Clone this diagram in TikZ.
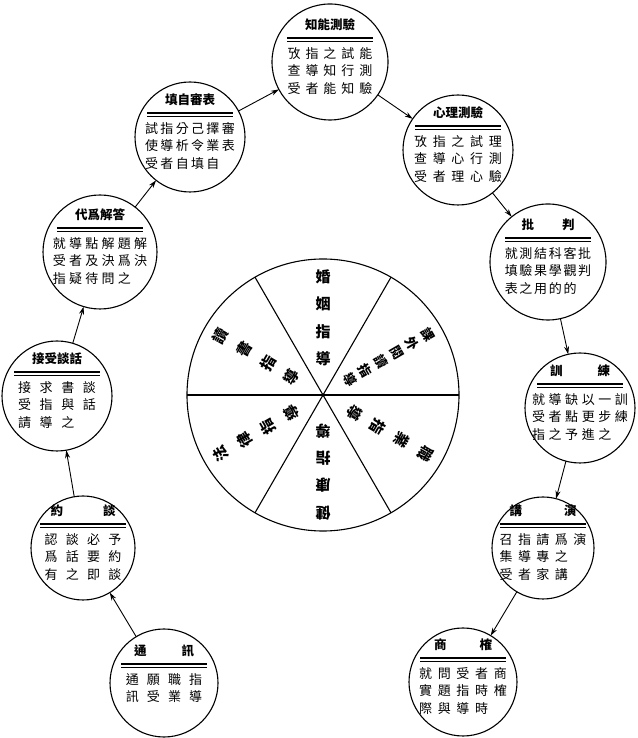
\documentclass[tikz,border=0pt]{standalone}
\usepackage{fontspec}
\newfontfamily\cjk{Noto Sans CJK TC}
\usetikzlibrary{arrows.meta}

% one stage of the cycle: circle, heading, double rule, body rows
\newcommand{\guidestage}[7][0]{%
  \node[ring, minimum size=2*#4] (#2) at (#3) {};
  \begin{scope}[shift={(#2.center)}, yshift=#1]
    \node[heading] (#2-t) at (0,37) {#5};
    \draw[line width=1.3pt] (-43,24) -- (43,24);
    \draw[line width=0.7pt] (-43,21) -- (43,21);
    \node[rows=#6, anchor=north] (#2-b) at (0,15) {#7};
  \end{scope}}

\begin{document}
\begin{tikzpicture}[x=1pt, y=1pt,
    ring/.style={draw, circle, line width=1.1pt, inner sep=0pt, outer sep=0pt},
    heading/.style={font=\cjk\bfseries\fontsize{12.5}{14}\selectfont, inner sep=0pt},
    rows/.style={font=\cjk\fontsize{13}{17.5}\selectfont\addfontfeature{LetterSpace=#1}, align=left, inner sep=0pt},
    sector/.style={font=\cjk\bfseries\fontsize{15}{15}\selectfont, inner sep=0pt},
    flow/.style={-{Stealth[length=8pt, width=5pt]}, line width=0.9pt},
]
\useasboundingbox (0,0) rectangle (637,738);

% stages, clockwise from the top
\guidestage{zhineng}{330,676}{58}{知能測驗}{38}{攷指之試能\\查導知行測\\受者能知驗}
\guidestage{xinli}{458,588}{55}{心理測驗}{44}{攷指之試理\\查導心行測\\受者理心驗}
\guidestage{pipan}{548,476}{58}{批\hspace{28pt}判}{13}{就測結科客批\\填驗果學觀判\\表之用的的}
\guidestage{xunlian}{580,330}{55}{訓\hspace{35pt}練}{27}{就導缺以一訓\\受者點更步練\\指之予進之}
\guidestage{jiangyan}{543,190}{51}{講\hspace{42pt}演}{42}{召指請爲演\\集導專之\\受者家講}
\guidestage{shangque}{463,56}{54}{商\hspace{33pt}榷}{44}{就問受者商\\實題指時榷\\際與導時}
\guidestage[-5]{tongxun}{164,55}{54}{通\hspace{35pt}訊}{62}{通願職指\\訊受業導}
\guidestage{yuetan}{83,190}{52}{約\hspace{40pt}談}{64}{認談必予\\爲話要約\\有之即談}
\guidestage{jieshou}{57,342}{55}{接受談話}{66}{接求書談\\受指與話\\請導之}
\guidestage{daida}{100,486}{57}{代爲解答}{25}{就導點解題解\\受者及決爲決\\指疑待問之}
\guidestage{tianbiao}{190,601}{55}{填自審表}{18}{試指分己擇審\\使導析令業表\\受者自填自}

% centre wheel
\node[ring, minimum size=272pt] (pie) at (323,343) {};
\draw[line width=1.1pt] (pie.west) -- (pie.east);
\draw[line width=1.1pt] (pie.60) -- (pie.240);
\draw[line width=1.1pt] (pie.120) -- (pie.300);
\begin{scope}[shift={(pie.center)}]
  \foreach \ang/\chars in {90/{婚,姻,指,導}, 150/{讀,書,指,導}, 210/{法,律,指,導}, 270/{健,康,指,導}, 330/{職,業,指,導}}
    \foreach \c [count=\i] in \chars
      \node[sector, rotate=\ang-90] (s\ang-\i) at (\ang:{118-27.3*(\i-1)}) {\c};
  \foreach \c [count=\i] in {課,外,閱,讀,指,導}
    \node[sector, font=\cjk\bfseries\fontsize{13}{13}\selectfont, rotate=-60] (s30-\i) at (30:{121-18*(\i-1)}) {\c};
\end{scope}

% arrows round the cycle
\draw[flow] (tongxun) -- (yuetan);
\draw[flow] (yuetan) -- (jieshou);
\draw[flow] (jieshou) -- (daida);
\draw[flow] (daida) -- (tianbiao);
\draw[flow] (tianbiao) -- (zhineng);
\draw[flow] (zhineng) -- (xinli);
\draw[flow] (xinli) -- (pipan);
\draw[flow] (pipan) -- (xunlian);
\draw[flow] (xunlian) -- (jiangyan);
\draw[flow] (jiangyan) -- (shangque);
\end{tikzpicture}
\end{document}
